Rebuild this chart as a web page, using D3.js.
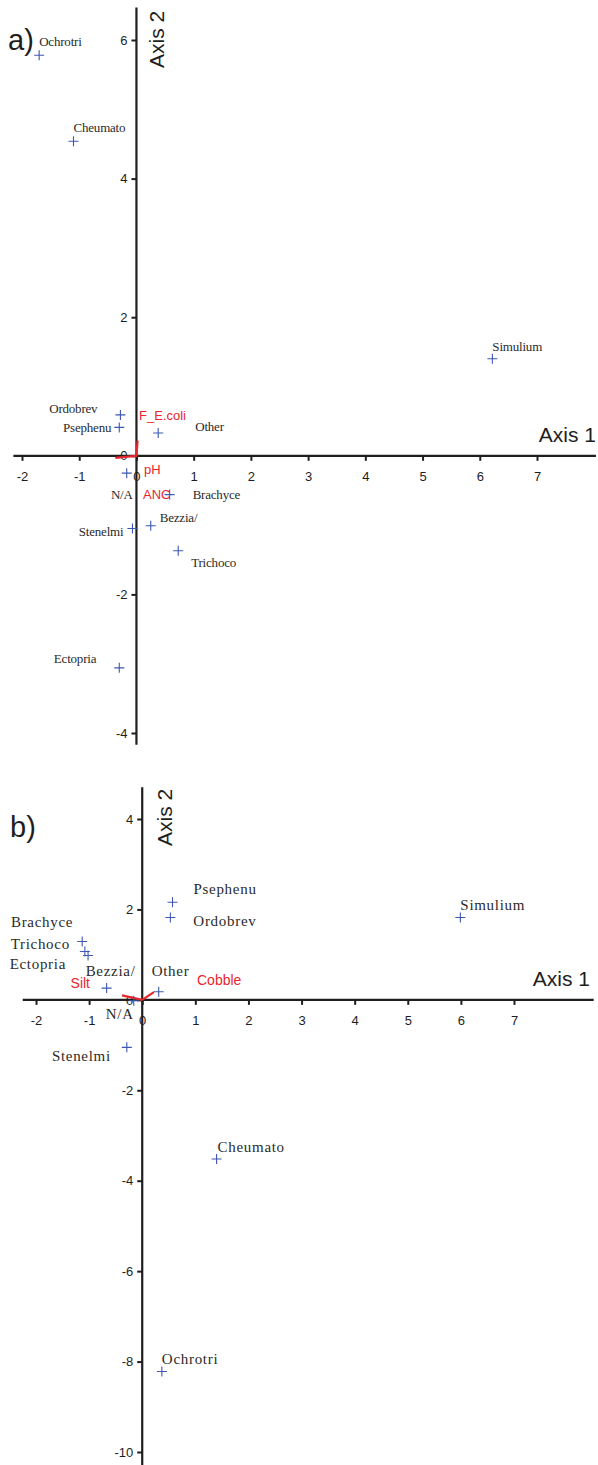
<!DOCTYPE html>
<html><head><meta charset="utf-8">
<script src="https://cdn.jsdelivr.net/npm/d3@7"></script>
<style>
html,body{margin:0;padding:0;background:#fff;}
svg{display:block;}
.serif{font-family:"Liberation Serif","Times New Roman",serif;}
.sans{font-family:"Liberation Sans",Arial,sans-serif;}
</style></head>
<body>
<script>
// ---------- DATA ----------
const taxaA = ["Ochrotri","Cheumato","Simulium","Ordobrev","Psephenu","Other","N/A","Brachyce","Bezzia/","Stenelmi","Trichoco","Ectopria"];
const axis1A = [-1.70,-1.10,6.22,-0.28,-0.30,0.38,-0.17,0.58,0.25,-0.07,0.73,-0.30];
const axis2A = [5.78,4.54,1.40,0.59,0.41,0.33,-0.25,-0.56,-1.01,-1.05,-1.37,-3.06];
const envA = ["F_E.coli","pH","ANC"];
const envA1 = [0.02,-0.37,0.01];
const envA2 = [0.22,-0.03,-0.01];
const xTicksA = [-2,-1,0,1,2,3,4,5,6,7];
const yTicksA = [-4,-2,0,2,4,6];

const taxaB = ["Psephenu","Ordobrev","Simulium","Brachyce","Trichoco","Ectopria","Bezzia/","Other","N/A","Stenelmi","Cheumato","Ochrotri"];
const axis1B = [0.57,0.53,5.99,-1.13,-1.08,-1.02,-0.67,0.31,-0.16,-0.29,1.40,0.37];
const axis2B = [2.16,1.82,1.82,1.29,1.07,0.98,0.26,0.18,-0.02,-1.05,-3.52,-8.22];
const envB = ["Silt","Cobble"];
const envB1 = [-0.38,0.22];
const envB2 = [0.10,0.17];
const xTicksB = [-2,-1,0,1,2,3,4,5,6,7];
const yTicksB = [-10,-8,-6,-4,-2,0,2,4];

// ---------- LAYOUT (label placement, pixels relative to point) ----------
const labA = {
  "Ochrotri":[0,-14,"start"],"Cheumato":[0,-14,"start"],"Simulium":[0,-12,"start"],
  "Ordobrev":[-23,-6,"end"],"Psephenu":[-8,0,"end"],"Other":[37,-6,"start"],
  "N/A":[6,21,"end"],"Brachyce":[23,0,"start"],"Bezzia/":[9,-8,"start"],
  "Stenelmi":[-9,3,"end"],"Trichoco":[13,12,"start"],"Ectopria":[-23,-9,"end"]
};
const envLabA = {"F_E.coli":[139,415,"start"],"pH":[144,469,"start"],"ANC":[143,494,"start"]};
const labB = {
  "Psephenu":[21,-13,"start"],"Ordobrev":[23,3,"start"],"Simulium":[0,-13,"start"],
  "Brachyce":[-9,-20,"end"],"Trichoco":[-15,-8,"end"],"Ectopria":[-22,8,"end"],
  "Bezzia/":[-21,-17,"start"],"Other":[-7,-21,"start"],"N/A":[0,13,"end"],
  "Stenelmi":[-16,8,"end"],"Cheumato":[1,-12,"start"],"Ochrotri":[0,-13,"start"]
};
const envLabB = {"Silt":[90,983,"end"],"Cobble":[197,980,"start"]};

const W = 598, H = 1465;
const svg = d3.select("body").append("svg").attr("width",W).attr("height",H);

const AX = "#1e1e1e", BLUE = "#3d57b3", RED = "#e8262d", TXT = "#2a2a2a";
const fmt = d => String(d);

function panel(cfg){
  const g = svg.append("g");
  const x = d3.scaleLinear().domain(cfg.xDom).range(cfg.xRange);
  const y = d3.scaleLinear().domain(cfg.yDom).range(cfg.yRange);
  const x0 = x(0), y0 = y(0);

  const xa = g.append("g").attr("transform",`translate(0,${y0})`)
    .call(d3.axisBottom(x).tickValues(cfg.xTicks).tickSize(5).tickPadding(11).tickFormat(fmt));
  xa.attr("font-family",null).attr("font-size",null);
  xa.select(".domain").remove();
  xa.selectAll(".tick line").attr("stroke",AX).attr("stroke-width",2);
  xa.selectAll(".tick text").attr("class","sans").style("font-size",cfg.tickFont+"px").attr("fill",AX);

  const ya = g.append("g").attr("transform",`translate(${x0},0)`)
    .call(d3.axisLeft(y).tickValues(cfg.yTicks).tickSize(5).tickPadding(4).tickFormat(fmt));
  ya.attr("font-family",null).attr("font-size",null);
  ya.select(".domain").remove();
  ya.selectAll(".tick line").attr("stroke",AX).attr("stroke-width",2);
  ya.selectAll(".tick text").attr("class","sans").style("font-size",cfg.tickFont+"px").attr("fill",AX);

  g.append("line").attr("x1",x(cfg.xExt[0])).attr("x2",x(cfg.xExt[1]))
    .attr("y1",y0).attr("y2",y0).attr("stroke",AX).attr("stroke-width",2.2);
  g.append("line").attr("x1",x0).attr("x2",x0)
    .attr("y1",y(cfg.yExt[0])).attr("y2",y(cfg.yExt[1])).attr("stroke",AX).attr("stroke-width",2.2);

  cfg.env.forEach((e,i)=>{
    g.append("line").attr("x1",x0).attr("y1",y0)
      .attr("x2",x(cfg.env1[i])).attr("y2",y(cfg.env2[i]))
      .attr("stroke",RED).attr("stroke-width",2.2);
    const L = cfg.envLab[e];
    g.append("text").attr("class","sans").attr("x",L[0]).attr("y",L[1]).attr("dy","0.35em")
      .attr("text-anchor",L[2]).style("font-size",cfg.envFont+"px").attr("fill",RED).text(e);
  });

  cfg.taxa.forEach((t,i)=>{
    const px = x(cfg.a1[i]), py = y(cfg.a2[i]);
    g.append("path").attr("d",`M${px-5},${py}H${px+5}M${px},${py-5}V${py+5}`)
      .attr("stroke",BLUE).attr("stroke-width",1.1).attr("fill","none");
    const L = cfg.lab[t];
    g.append("text").attr("class","serif").attr("x",px+L[0]).attr("y",py+L[1]).attr("dy","0.35em")
      .attr("text-anchor",L[2]).style("font-size",cfg.labFont+"px")
      .style("letter-spacing",cfg.labSpacing+"px").attr("fill",TXT).text(t);
  });

  g.append("text").attr("class","sans").attr("x",cfg.ax1Pos[0]).attr("y",cfg.ax1Pos[1]).attr("dy","0.35em")
    .attr("text-anchor","end").style("font-size","21px").attr("fill",AX).text("Axis 1");
  g.append("text").attr("class","sans").attr("transform",`translate(${cfg.ax2Pos[0]},${cfg.ax2Pos[1]}) rotate(-90)`)
    .attr("dy","0.35em").attr("text-anchor","start").style("font-size","21px").attr("fill",AX).text("Axis 2");
  g.append("text").attr("class","sans").attr("x",cfg.tagPos[0]).attr("y",cfg.tagPos[1]).attr("dy","0.35em")
    .style("font-size","29px").attr("fill",AX).text(cfg.tag);
}

panel({
  xDom:[-2,7], xRange:[22,537], yDom:[-4,6], yRange:[733,40],
  xExt:[-2.15,8.03], yExt:[-4.17,6.47],
  xTicks:xTicksA, yTicks:yTicksA, tickFont:13,
  taxa:taxaA, a1:axis1A, a2:axis2A, lab:labA, labFont:13, labSpacing:-0.2,
  env:envA, env1:envA1, env2:envA2, envLab:envLabA, envFont:13,
  ax1Pos:[596,435], ax2Pos:[157,68], tag:"a)", tagPos:[8,40]
});
panel({
  xDom:[-2,7], xRange:[36,514], yDom:[-10,4], yRange:[1452,819],
  xExt:[-2.25,8.5], yExt:[-10.35,4.7],
  xTicks:xTicksB, yTicks:yTicksB, tickFont:13,
  taxa:taxaB, a1:axis1B, a2:axis2B, lab:labB, labFont:15, labSpacing:0.7,
  env:envB, env1:envB1, env2:envB2, envLab:envLabB, envFont:14,
  ax1Pos:[590,979], ax2Pos:[165,846], tag:"b)", tagPos:[10,827]
});
</script>
</body></html>
